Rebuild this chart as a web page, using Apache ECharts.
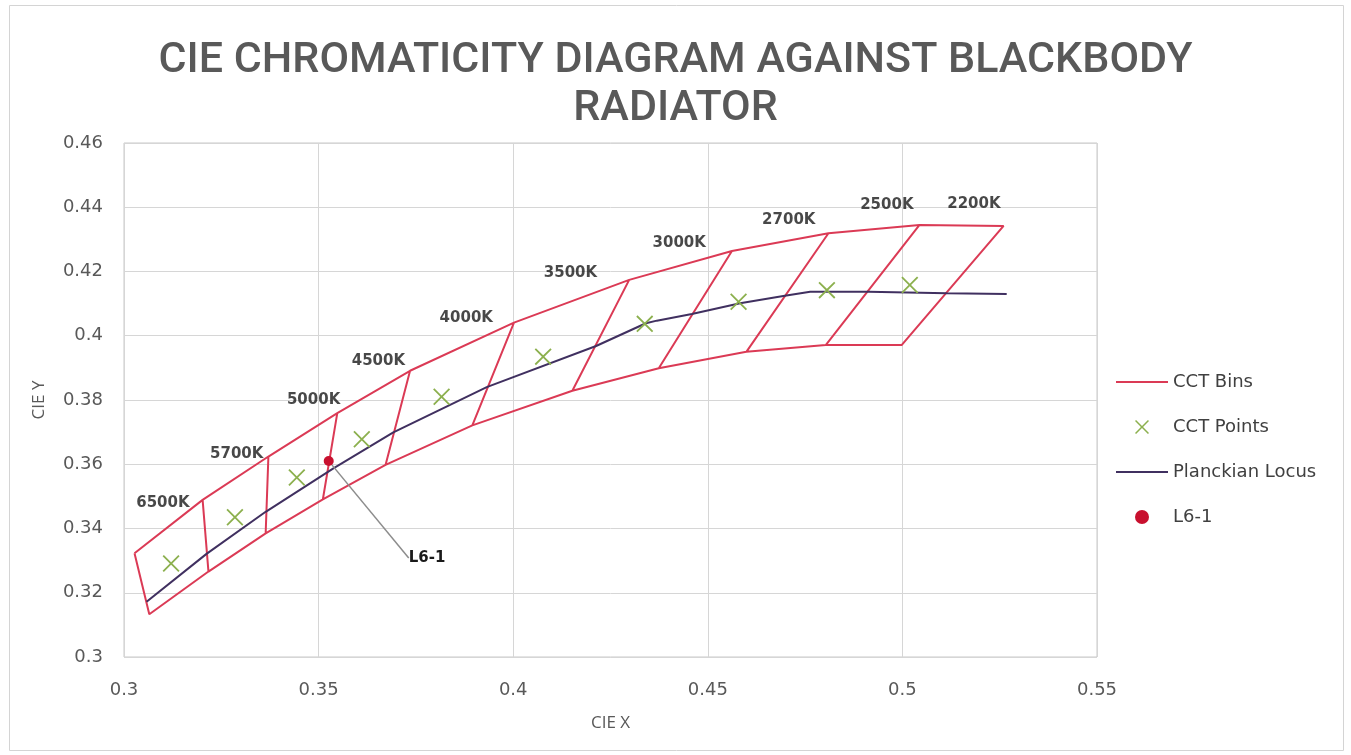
<!DOCTYPE html>
<html>
<head>
<meta charset="utf-8">
<title>CIE Chromaticity Diagram</title>
<script src="https://cdn.jsdelivr.net/npm/echarts@6/dist/echarts.min.js"></script>
<style>
    html, body { margin: 0; padding: 0; background: #fff; }
    #chart { width: 1351px; height: 755px; }
</style>
</head>
<body>
<div id="chart"></div>
<script>
// bin corners along the upper and lower edge of the quadrangles (CIE x / y)
const binUpperX = [0.3027, 0.3202, 0.3371, 0.3548, 0.3735, 0.4002, 0.4298, 0.4562, 0.4810, 0.5044, 0.5260];
const binUpperY = [0.3323, 0.3489, 0.3624, 0.3759, 0.3891, 0.4041, 0.4174, 0.4264, 0.4319, 0.4345, 0.4342];
const binLowerX = [0.3065, 0.3217, 0.3364, 0.3511, 0.3672, 0.3895, 0.4152, 0.4374, 0.4599, 0.4803, 0.4998];
const binLowerY = [0.3133, 0.3266, 0.3385, 0.3491, 0.3598, 0.3721, 0.3829, 0.3899, 0.3950, 0.3971, 0.3971];

// CCT names, one per bin (label sits at the bin's upper right corner)
const cctNames = ["6500K", "5700K", "5000K", "4500K", "4000K", "3500K", "3000K", "2700K", "2500K", "2200K"];

// nominal CCT points
const cctX = [0.3121, 0.3285, 0.3444, 0.3611, 0.3816, 0.4077, 0.4338, 0.4579, 0.4806, 0.5019];
const cctY = [0.3291, 0.3435, 0.3559, 0.3678, 0.3810, 0.3935, 0.4037, 0.4106, 0.4142, 0.4158];

// planckian locus
const locusX = [0.3058, 0.3212, 0.3364, 0.3538, 0.3692, 0.3932, 0.4213, 0.4341, 0.4369, 0.4459, 0.4583, 0.4694, 0.4763, 0.4912, 0.5114, 0.5268];
const locusY = [0.3172, 0.3321, 0.3452, 0.3587, 0.3699, 0.3840, 0.3968, 0.4039, 0.4047, 0.4068, 0.4101, 0.4124, 0.4137, 0.4137, 0.4132, 0.4130];

// measured sample
const sampleName = "L6-1";
const sampleX = [0.3526];
const sampleY = [0.3610];

const xTicks = { min: 0.3, max: 0.55, interval: 0.05 };
const yTicks = { min: 0.3, max: 0.46, interval: 0.02 };

// label nudges in px (layout only)
const cctLabelOffsets = [[-13, 3], [-5, -2], [3, -13], [-5, -10], [-21, -4], [-32, -7], [-26, -8], [-13, -13], [-6, -20], [-3, -22]];

const zip = (xs, ys) => xs.map((x, i) => [x, ys[i]]);

// outline of all bins, then each divider as its own segment
const binPath = [];
binUpperX.forEach((x, i) => binPath.push([x, binUpperY[i]]));
for (let i = binLowerX.length - 1; i >= 0; i--) binPath.push([binLowerX[i], binLowerY[i]]);
binPath.push([binUpperX[0], binUpperY[0]]);
for (let i = 1; i < binUpperX.length - 1; i++) {
    binPath.push(["-", "-"]);
    binPath.push([binUpperX[i], binUpperY[i]]);
    binPath.push([binLowerX[i], binLowerY[i]]);
}

const labelData = cctNames.map((name, i) => ({
    value: [binUpperX[i + 1], binUpperY[i + 1]],
    name: name,
    label: { offset: cctLabelOffsets[i] },
}));

const xMark = "path://M0,1.5L1.5,0L10,8.5L18.5,0L20,1.5L11.5,10L20,18.5L18.5,20L10,11.5L1.5,20L0,18.5L8.5,10Z";
const lineIcon = "path://M0,0H50V2H0Z";

const chart = echarts.init(document.getElementById("chart"));

const option = {
    animation: false,
    backgroundColor: "#fff",
    title: {
        text: "CIE CHROMATICITY DIAGRAM AGAINST BLACKBODY\nRADIATOR",
        left: "center",
        top: 32,
        textStyle: {
            fontFamily: "Roboto",
            fontSize: 43,
            fontWeight: 500,
            color: "#595959",
            lineHeight: 48,
        },
    },
    legend: {
        orient: "vertical",
        left: 1116,
        top: 372,
        padding: 0,
        itemWidth: 52,
        itemHeight: 14,
        itemGap: 25,
        symbolKeepAspect: true,
        textStyle: { fontFamily: "DejaVu Sans", fontSize: 18, color: "#404040", lineHeight: 20 },
        data: [
            { name: "CCT Bins", icon: lineIcon },
            { name: "CCT Points" },
            { name: "Planckian Locus", icon: lineIcon },
            { name: sampleName },
        ],
    },
    grid: {
        left: 124,
        right: 254,
        top: 143,
        bottom: 98,
        show: true,
        borderColor: "#c8c8c8",
        borderWidth: 1,
    },
    xAxis: {
        type: "value",
        min: xTicks.min,
        max: xTicks.max,
        interval: xTicks.interval,
        name: "CIE X",
        nameLocation: "middle",
        nameGap: 58,
        nameTextStyle: { fontFamily: "Open Sans", fontSize: 17, color: "#595959" },
        axisLine: { show: false },
        axisTick: { show: false },
        axisLabel: { fontFamily: "DejaVu Sans", fontSize: 18, color: "#595959", margin: 24 },
        splitLine: { show: true, lineStyle: { color: "#d6d6d6", width: 1 } },
    },
    yAxis: {
        type: "value",
        min: yTicks.min,
        max: yTicks.max,
        interval: yTicks.interval,
        name: "CIE Y",
        nameLocation: "middle",
        nameGap: 76,
        nameRotate: 90,
        nameTextStyle: { fontFamily: "Open Sans", fontSize: 17, color: "#595959" },
        axisLine: { show: false },
        axisTick: { show: false },
        axisLabel: { fontFamily: "DejaVu Sans", fontSize: 18, color: "#595959", margin: 21 },
        splitLine: { show: true, lineStyle: { color: "#d6d6d6", width: 1 } },
    },
    series: [
        {
            name: "CCT Bins",
            type: "line",
            data: binPath,
            symbol: "none",
            connectNulls: false,
            lineStyle: { color: "#db3a55", width: 2 },
            itemStyle: { color: "#db3a55" },
            z: 2,
        },
        {
            name: "Planckian Locus",
            type: "line",
            data: zip(locusX, locusY),
            symbol: "none",
            lineStyle: { color: "#403060", width: 2 },
            itemStyle: { color: "#403060" },
            z: 3,
        },
        {
            name: "CCT Points",
            type: "scatter",
            data: zip(cctX, cctY),
            symbol: xMark,
            symbolSize: 17,
            itemStyle: { color: "#8cb04e", opacity: 1 },
            z: 4,
        },
        {
            name: "bin labels",
            type: "scatter",
            data: labelData,
            symbolSize: 0,
            silent: true,
            label: {
                show: true,
                position: "left",
                distance: 0,
                formatter: "{b}",
                fontFamily: "DejaVu Sans",
                fontWeight: "bold",
                fontSize: 15,
                color: "#1a1a1a",
            },
            z: 5,
        },
        {
            name: sampleName,
            type: "scatter",
            data: zip(sampleX, sampleY),
            symbol: "circle",
            symbolSize: 10,
            itemStyle: { color: "#c8102e", opacity: 1 },
            label: {
                show: true,
                formatter: sampleName,
                position: "right",
                fontFamily: "DejaVu Sans",
                fontWeight: "bold",
                fontSize: 15,
                color: "#1a1a1a",
            },
            labelLayout: { dx: 70, dy: 97 },
            labelLine: { show: true, lineStyle: { color: "#8c8c8c", width: 1.5 } },
            z: 6,
        },
    ],
    graphic: [
        {
            type: "rect",
            left: 7,
            top: 3,
            shape: { width: 1334, height: 745 },
            style: { fill: "none", stroke: "#d4d4d4", lineWidth: 1 },
            silent: true,
        },
    ],
};

chart.setOption(option);
window.addEventListener("resize", () => chart.resize());
</script>
</body>
</html>
